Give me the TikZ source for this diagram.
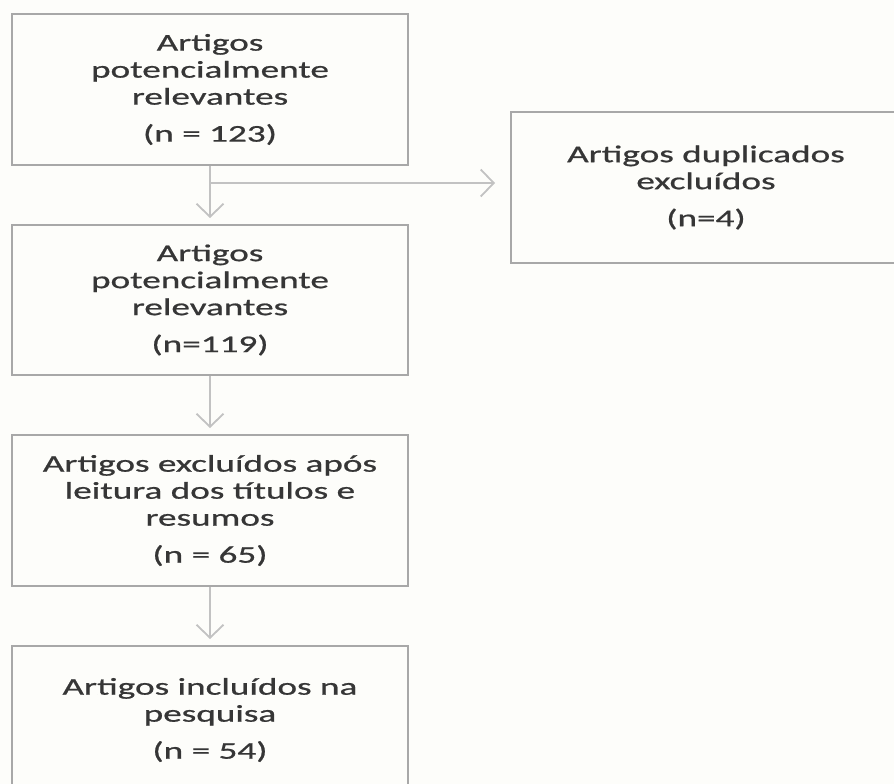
\documentclass[tikz,border=0pt]{standalone}
\usepackage{fontspec}
\usepackage{tikz}
\usetikzlibrary{arrows.meta,positioning}
\newfontfamily\boxfont{Carlito}[FakeStretch=1.55, FakeBold=0.8]
\definecolor{boxline}{HTML}{A8A8A8}
\definecolor{arrowline}{HTML}{C2C2C2}
\definecolor{boxtext}{HTML}{363636}
\definecolor{paper}{HTML}{FDFDFA}

\begin{document}
\begin{tikzpicture}[
  x=1pt, y=1pt,
  stagebox/.style={rectangle, draw=boxline, line width=2pt, minimum width=396pt,
    minimum height=150pt, align=center, text=boxtext,
    font=\boxfont\fontsize{24}{27}\selectfont, inner sep=0pt},
  flowarrow/.style={draw=arrowline, line width=1.8pt,
    -{Straight Barb[length=13pt, width=27pt]}, shorten >=6pt},
  node distance=58pt
]
\fill[paper] (0,0) rectangle (894,-784);
\useasboundingbox (0,0) rectangle (894,-784);

\node[stagebox, minimum height=151pt] (found) at (210,-89.5)
  {Artigos\\ potencialmente\\ relevantes\\[10pt] (n = 123)};
\node[stagebox, below=of found] (unique)
  {Artigos\\ potencialmente\\ relevantes\\[10pt] (n=119)};
\node[stagebox, minimum height=151pt, below=of unique] (screened)
  {Artigos excluídos após\\ leitura dos títulos e\\ resumos\\[10pt] (n = 65)};
\node[stagebox, minimum height=148pt, below=of screened] (included)
  {Artigos incluídos na\\ pesquisa\\[10pt] (n = 54)};
\node[stagebox, minimum width=390pt, minimum height=151pt] (dupes) at (706,-187.5)
  {Artigos duplicados\\ excluídos\\[10pt] (n=4)};

\coordinate (split) at ([yshift=-17pt]found.south);
\draw[flowarrow] (found) -- (unique);
\draw[flowarrow, shorten >=15pt] (split) -- (split -| dupes.west);
\draw[flowarrow] (unique) -- (screened);
\draw[flowarrow] (screened) -- (included);
\end{tikzpicture}
\end{document}
